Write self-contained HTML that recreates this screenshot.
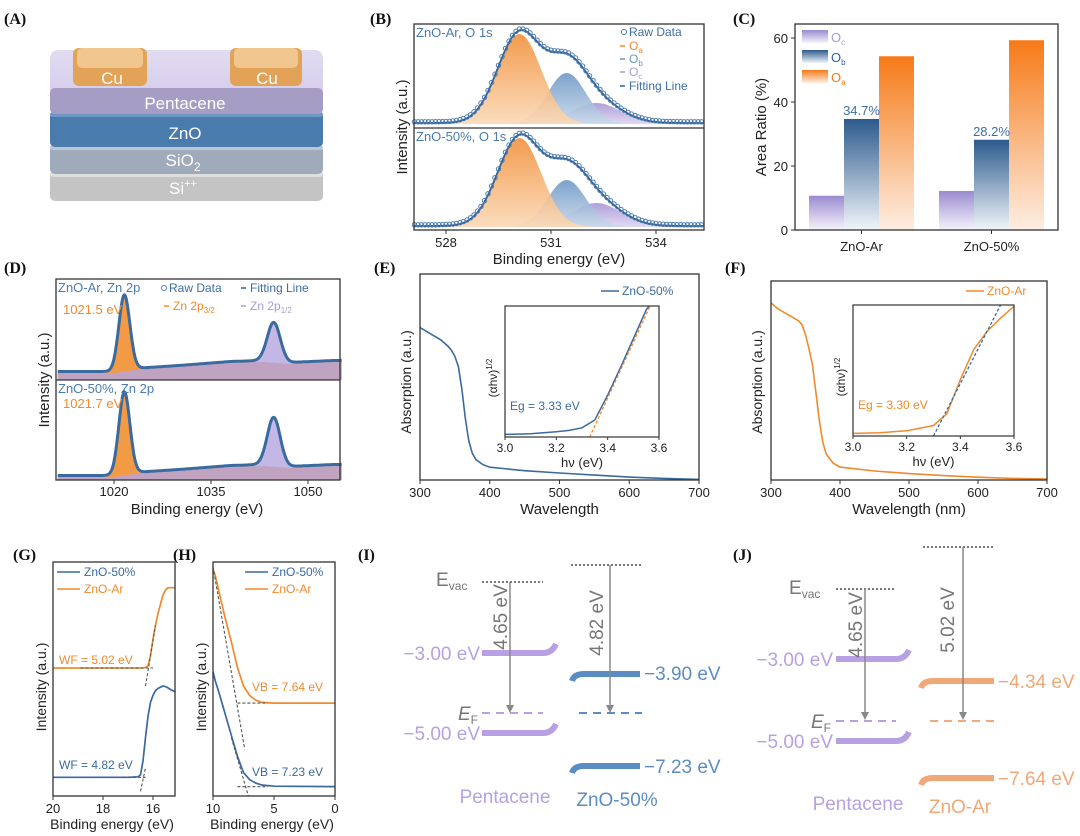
<!DOCTYPE html>
<html><head><meta charset="utf-8"><style>
html,body{margin:0;padding:0;background:#fff;}
svg{display:block;font-family:"Liberation Sans",Arial,sans-serif;}
.pl{font-family:"Liberation Serif",serif;font-weight:bold;font-size:16px;fill:#111;}
</style></head><body>
<svg id="fig" width="1080" height="836" viewBox="0 0 1080 836" xmlns="http://www.w3.org/2000/svg">
<defs>
<linearGradient id="gOa" x1="0" y1="0" x2="0" y2="1"><stop offset="0" stop-color="#f2913c"/><stop offset="1" stop-color="#fbd9b6"/></linearGradient>
<linearGradient id="gOb" x1="0" y1="0" x2="0" y2="1"><stop offset="0" stop-color="#6f98c6"/><stop offset="1" stop-color="#c9d9ea"/></linearGradient>
<linearGradient id="gOc" x1="0" y1="0" x2="0" y2="1"><stop offset="0" stop-color="#a796d6"/><stop offset="1" stop-color="#ddd6f0"/></linearGradient>
<linearGradient id="cbOc" x1="0" y1="0" x2="0" y2="1"><stop offset="0" stop-color="#9a8bd0"/><stop offset="1" stop-color="#f6f4fb"/></linearGradient>
<linearGradient id="cbOb" x1="0" y1="0" x2="0" y2="1"><stop offset="0" stop-color="#2c5a8c"/><stop offset="1" stop-color="#f1f5fa"/></linearGradient>
<linearGradient id="cbOa" x1="0" y1="0" x2="0" y2="1"><stop offset="0" stop-color="#f67a18"/><stop offset="1" stop-color="#fdeee3"/></linearGradient>
<linearGradient id="gPent" x1="0" y1="0" x2="0" y2="1"><stop offset="0" stop-color="#e2dcf2"/><stop offset="1" stop-color="#cfc6e8"/></linearGradient>
</defs>

<!-- Panel A -->
<g>
<text class="pl" x="4" y="24">(A)</text>
<rect x="50" y="171" width="273" height="30" rx="5" fill="#c4c4c4"/>
<rect x="50" y="171" width="273" height="6" rx="3" fill="#dedede"/>
<rect x="50" y="145" width="273" height="29" rx="5" fill="#9faabb"/>
<rect x="50" y="145" width="273" height="5" rx="3" fill="#bcc5d2"/>
<rect x="50" y="112" width="273" height="35" rx="5" fill="#4a7bad"/>
<rect x="50" y="112" width="273" height="5" rx="3" fill="#6e98c4"/>
<rect x="50" y="50" width="273" height="64" rx="8" fill="url(#gPent)"/>
<rect x="50" y="88" width="273" height="26" rx="5" fill="#a69dc4"/>
<rect x="73" y="48" width="74" height="38" rx="6" fill="#e2a257"/>
<rect x="77" y="48" width="66" height="20" rx="5" fill="#f1c68f"/>
<rect x="230" y="48" width="72" height="38" rx="6" fill="#e2a257"/>
<rect x="234" y="48" width="64" height="20" rx="5" fill="#f1c68f"/>
<g fill="#fff" font-size="17" text-anchor="middle">
<text x="112" y="84">Cu</text><text x="267" y="84">Cu</text>
<text x="185" y="109">Pentacene</text>
<text x="185" y="139">ZnO</text>
<text x="183" y="166">SiO<tspan font-size="12" dy="5">2</tspan></text>
<text x="183" y="194">Si<tspan font-size="11" dy="-7">++</tspan></text>
</g>
</g>

<!-- Panel I -->
<g font-size="19">
<text class="pl" x="358" y="560">(I)</text>
<text x="436" y="586" fill="#777">E<tspan font-size="12" dy="4">vac</tspan></text>
<line x1="482" y1="582" x2="543" y2="582" stroke="#777" stroke-width="2" stroke-dasharray="2,2"/>
<line x1="571" y1="565" x2="642" y2="565" stroke="#777" stroke-width="2" stroke-dasharray="2,2"/>
<path d="M482,653 L543,653 Q552,653 556,644" fill="none" stroke="#b7a1e2" stroke-width="6"/>
<path d="M482,733 L543,733 Q552,733 556,724" fill="none" stroke="#b7a1e2" stroke-width="6"/>
<path d="M572,681 Q574,674 584,674 L640,674" fill="none" stroke="#5b8dc4" stroke-width="6"/>
<path d="M572,773 Q574,766 584,766 L640,766" fill="none" stroke="#5b8dc4" stroke-width="6"/>
<line x1="482" y1="713" x2="543" y2="713" stroke="#b7a1e2" stroke-width="2" stroke-dasharray="8,6"/>
<line x1="579" y1="713" x2="642" y2="713" stroke="#5b8dc4" stroke-width="2" stroke-dasharray="8,6"/>
<line x1="510" y1="582" x2="510" y2="707" stroke="#888" stroke-width="1.5"/><path d="M506,705 L510,713 L514,705Z" fill="#888"/>
<line x1="610" y1="565" x2="610" y2="707" stroke="#888" stroke-width="1.5"/><path d="M606,705 L610,713 L614,705Z" fill="#888"/>
<text transform="translate(507,617) rotate(-90)" text-anchor="middle" fill="#777">4.65 eV</text>
<text transform="translate(603,623) rotate(-90)" text-anchor="middle" fill="#777">4.82 eV</text>
<text x="480" y="660" text-anchor="end" fill="#b7a1e2">−3.00 eV</text>
<text x="480" y="740" text-anchor="end" fill="#b7a1e2">−5.00 eV</text>
<text x="478" y="720" text-anchor="end" fill="#777" font-style="italic">E<tspan font-size="12" dy="4" font-style="normal">F</tspan></text>
<text x="644" y="680" fill="#5b8dc4">−3.90 eV</text>
<text x="644" y="773" fill="#5b8dc4">−7.23 eV</text>
<text x="505" y="803" text-anchor="middle" fill="#b7a1e2">Pentacene</text>
<text x="617" y="806" text-anchor="middle" fill="#5b8dc4">ZnO-50%</text>
</g>

<!-- Panel J -->
<g font-size="19">
<text class="pl" x="733" y="560">(J)</text>
<text x="789" y="594" fill="#777">E<tspan font-size="12" dy="4">vac</tspan></text>
<line x1="836" y1="589" x2="896" y2="589" stroke="#777" stroke-width="2" stroke-dasharray="2,2"/>
<line x1="923" y1="547" x2="994" y2="547" stroke="#777" stroke-width="2" stroke-dasharray="2,2"/>
<path d="M836,659 L896,659 Q905,659 909,650" fill="none" stroke="#b7a1e2" stroke-width="6"/>
<path d="M836,741 L896,741 Q905,741 909,732" fill="none" stroke="#b7a1e2" stroke-width="6"/>
<path d="M921,688 Q923,681 933,681 L994,681" fill="none" stroke="#f0a878" stroke-width="6"/>
<path d="M921,785 Q923,778 933,778 L994,778" fill="none" stroke="#f0a878" stroke-width="6"/>
<line x1="836" y1="721" x2="896" y2="721" stroke="#b7a1e2" stroke-width="2" stroke-dasharray="8,6"/>
<line x1="930" y1="721" x2="994" y2="721" stroke="#f0a878" stroke-width="2" stroke-dasharray="8,6"/>
<line x1="865" y1="589" x2="865" y2="714" stroke="#888" stroke-width="1.5"/><path d="M861,712 L865,720 L869,712Z" fill="#888"/>
<line x1="963" y1="547" x2="963" y2="714" stroke="#888" stroke-width="1.5"/><path d="M959,712 L963,720 L967,712Z" fill="#888"/>
<text transform="translate(862,625) rotate(-90)" text-anchor="middle" fill="#777">4.65 eV</text>
<text transform="translate(954,620) rotate(-90)" text-anchor="middle" fill="#777">5.02 eV</text>
<text x="833" y="666" text-anchor="end" fill="#b7a1e2">−3.00 eV</text>
<text x="833" y="748" text-anchor="end" fill="#b7a1e2">−5.00 eV</text>
<text x="831" y="728" text-anchor="end" fill="#777" font-style="italic">E<tspan font-size="12" dy="4" font-style="normal">F</tspan></text>
<text x="998" y="688" fill="#f0a878">−4.34 eV</text>
<text x="998" y="785" fill="#f0a878">−7.64 eV</text>
<text x="858" y="810" text-anchor="middle" fill="#b7a1e2">Pentacene</text>
<text x="960" y="813" text-anchor="middle" fill="#f0a878">ZnO-Ar</text>
</g>
</svg>
<script>
// ===== data =====
// Panel B (O 1s): peak centers (eV), amplitudes (a.u.), widths (eV) for Oa, Ob, Oc
const bCenters = [530.1, 531.45, 532.3];
const bAmpTop = [90, 51, 21];
const bAmpBot = [89, 47, 24];
const bSigma = [0.62, 0.55, 0.7];
const bTicks = [528, 531, 534];
// Panel C
const cCats = ['ZnO-Ar', 'ZnO-50%'];
const cOc = [10.7, 12.2];
const cOb = [34.7, 28.2];
const cOa = [54.3, 59.3];
const cTicks = [0, 20, 40, 60];
// Panel D (Zn 2p)
const dCenters = [1021.6, 1044.7];
const dAmpTop = [75, 39];
const dAmpBot = [82, 48];
const dSigma = [0.85, 1.0];
const dBgE = [1011, 1020, 1023, 1030, 1038, 1043, 1047, 1054];
const dBgTop = [0, 0, 3, 6, 10, 11, 9, 11];
const dBgBot = [0, 0, 3, 6, 10, 11, 9, 11];
const dTicks = [1020, 1035, 1050];
// Panel E / F absorption
const wl = [300, 310, 320, 330, 340, 345, 350, 355, 360, 365, 370, 375, 380, 390, 400, 450, 500, 550, 600, 650, 700];
const absE = [0.74, 0.72, 0.70, 0.68, 0.65, 0.63, 0.60, 0.55, 0.44, 0.30, 0.19, 0.13, 0.10, 0.075, 0.062, 0.045, 0.034, 0.024, 0.014, 0.008, 0.003];
const absF = [0.89, 0.86, 0.84, 0.82, 0.80, 0.78, 0.73, 0.66, 0.58, 0.44, 0.30, 0.19, 0.13, 0.085, 0.065, 0.045, 0.032, 0.022, 0.014, 0.008, 0.005];
const wlTicks = [300, 400, 500, 600, 700];
const hv = [3.0, 3.1, 3.2, 3.25, 3.3, 3.35, 3.4, 3.45, 3.5, 3.55, 3.6];
const taucE = [0.02, 0.025, 0.04, 0.05, 0.07, 0.13, 0.32, 0.53, 0.75, 0.97, 1.1];
const taucF = [0.02, 0.025, 0.04, 0.06, 0.08, 0.17, 0.43, 0.66, 0.80, 0.90, 0.99];
const hvTicks = [3.0, 3.2, 3.4, 3.6];
const egE = 3.33, egF = 3.30;
// Panel G (work function)
const gBE = [20, 17, 16.6, 16.5, 16.4, 16.3, 16.2, 16.1, 16.0, 15.9, 15.8, 15.7, 15.6, 15.5, 15.4, 15.3, 15.1];
const gAr = [0.547, 0.547, 0.547, 0.547, 0.548, 0.549, 0.556, 0.60, 0.67, 0.73, 0.78, 0.82, 0.86, 0.88, 0.89, 0.89, 0.89];
const g50 = [0.08, 0.08, 0.082, 0.09, 0.15, 0.25, 0.34, 0.40, 0.43, 0.45, 0.46, 0.465, 0.47, 0.468, 0.462, 0.455, 0.445];
const gTicks = [20, 18, 16];
// Panel H (valence band)
const hBE = [10, 9.8, 9.5, 9, 8.5, 8, 7.5, 7, 6.5, 6, 5, 0];
const hAr = [0.97, 0.94, 0.87, 0.76, 0.66, 0.55, 0.47, 0.43, 0.41, 0.40, 0.397, 0.397];
const h50 = [0.53, 0.49, 0.44, 0.35, 0.26, 0.17, 0.10, 0.07, 0.055, 0.047, 0.042, 0.04];
const hTicks = [10, 5, 0];

// ===== helpers =====
const svg = document.getElementById('fig');
const NS = 'http://www.w3.org/2000/svg';
function mk(tag, attrs, parent) { const e = document.createElementNS(NS, tag); for (const k in attrs) e.setAttribute(k, attrs[k]); (parent || svg).appendChild(e); return e; }
function txt(s, x, y, attrs, parent) { const t = mk('text', Object.assign({ x: x, y: y }, attrs || {}), parent); t.textContent = s; return t; }
function lin(d0, d1, r0, r1) { return v => r0 + (v - d0) * (r1 - r0) / (d1 - d0); }
function pth(xs, ys, sx, sy) { return xs.map((x, i) => (i ? 'L' : 'M') + sx(x).toFixed(1) + ',' + sy(ys[i]).toFixed(1)).join(''); }
function gauss(x, c, a, s) { return a * Math.exp(-0.5 * ((x - c) / s) ** 2); }
function interp(xs, ys, x) { for (let i = 0; i < xs.length - 1; i++) { const a = xs[i], b = xs[i + 1]; if ((x - a) * (x - b) <= 0) return ys[i] + (ys[i + 1] - ys[i]) * (x - a) / (b - a); } return ys[ys.length - 1]; }
const AX = '#333', TC = '#222';

// ===== Panel B =====
(function () {
  const g = mk('g', {});
  
  
  txt('(B)', 370, 24, { class: 'pl' }, g);
  const sx = lin(528, 531, 446, 551);
  const x0 = 527.1, x1 = 535.35;
  const grid = []; for (let e = x0; e <= x1 + 1e-9; e += 0.05) grid.push(e);
  const panels = [{ amp: bAmpTop, base: 124, label: 'ZnO-Ar, O 1s', ly: 37 }, { amp: bAmpBot, base: 227, label: 'ZnO-50%, O 1s', ly: 141 }];
  const fills = ['url(#gOa)', 'url(#gOb)', 'url(#gOc)'];
  panels.forEach((p, pi) => {
    const sy = v => p.base - v;
    [2, 1, 0].forEach(k => {
      const ys = grid.map(e => gauss(e, bCenters[k], p.amp[k], bSigma[k]));
      const f = mk('path', { d: pth(grid, ys, sx, sy) + 'L' + sx(x1) + ',' + p.base + 'L' + sx(x0) + ',' + p.base + 'Z', fill: fills[k], 'fill-opacity': 0.9 }, g);
      
      
    });
    const sum = grid.map(e => bCenters.reduce((s, c, k) => s + gauss(e, c, p.amp[k], bSigma[k]), 0) + 1);
    const fl = mk('path', { d: pth(grid, sum, sx, sy), fill: 'none', stroke: '#2f5f93', 'stroke-width': 1.8 }, g);
    
    
    for (let i = 0; i < grid.length; i += 2) {
      const c = mk('circle', { cx: sx(grid[i]).toFixed(1), cy: sy(sum[i] + 1.2).toFixed(1), r: 2.2, fill: 'none', stroke: '#4a7bb0', 'stroke-width': 1 }, g);
      
      
    }
    txt(p.label, 416, p.ly, { 'font-size': 13, fill: '#4a7bb0' }, g);
  });
  mk('rect', { x: 414, y: 24, width: 290, height: 206, fill: 'none', stroke: AX, 'stroke-width': 1.3 }, g);
  mk('line', { x1: 414, y1: 128, x2: 704, y2: 128, stroke: AX, 'stroke-width': 1.3 }, g);
  bTicks.forEach(t => { mk('line', { x1: sx(t), y1: 230, x2: sx(t), y2: 234, stroke: AX }, g); txt(String(t), sx(t), 247, { 'font-size': 13, 'text-anchor': 'middle', fill: TC }, g); });
  txt('Binding energy (eV)', 559, 264, { 'font-size': 15, 'text-anchor': 'middle', fill: TC }, g);
  txt('Intensity (a.u.)', 0, 0, { 'font-size': 15, 'text-anchor': 'middle', fill: TC, transform: 'translate(407,127) rotate(-90)' }, g);
  const lg = mk('g', { 'font-size': 12 }, g);
  
  
  mk('circle', { cx: 624, cy: 32, r: 2.5, fill: 'none', stroke: '#4a7bb0' }, lg);
  txt('Raw Data', 629, 36, { fill: '#3d6ea6' }, lg);
  const li = [['#f08a2c', 'O', 'a', 50], ['#6f96c2', 'O', 'b', 63], ['#a99bd6', 'O', 'c', 76]];
  li.forEach(L => { mk('line', { x1: 620, y1: L[3] - 4, x2: 625, y2: L[3] - 4, stroke: L[0], 'stroke-width': 1.5 }, lg); const t = txt(L[1], 629, L[3], { fill: L[0] }, lg); const s = mk('tspan', { 'font-size': 8, dy: 3 }, t); s.textContent = L[2]; });
  mk('line', { x1: 620, y1: 86, x2: 625, y2: 86, stroke: '#2f5f93', 'stroke-width': 1.5 }, lg);
  txt('Fitting Line', 629, 90, { fill: '#3d6ea6' }, lg);
})();

// ===== Panel C =====
(function () {
  const g = mk('g', {});
  
  
  txt('(C)', 733, 24, { class: 'pl' }, g);
  const sy = lin(0, 60, 230, 38);
  const cx = lin(0, 1, 861.5, 991.5);
  const bw = 35;
  const series = [[cOc, 'url(#cbOc)', 'oc', -52.5], [cOb, 'url(#cbOb)', 'ob', -17.5], [cOa, 'url(#cbOa)', 'oa', 17.5]];
  cCats.forEach((c, i) => {
    series.forEach(S => {
      const v = S[0][i];
      const r = mk('rect', { x: cx(i) + S[3], y: sy(v), width: bw, height: 230 - sy(v), fill: S[1] }, g);
      
      
    });
    txt(cOb[i].toFixed(1) + '%', cx(i), sy(cOb[i]) - 4, { 'font-size': 13, 'text-anchor': 'middle', fill: '#3d6ea6' }, g);
    mk('line', { x1: cx(i), y1: 230, x2: cx(i), y2: 234, stroke: AX }, g);
    txt(c, cx(i), 251, { 'font-size': 13, 'text-anchor': 'middle', fill: TC }, g);
  });
  mk('rect', { x: 795, y: 24, width: 263, height: 206, fill: 'none', stroke: AX, 'stroke-width': 1.3 }, g);
  cTicks.forEach(t => { mk('line', { x1: 791, y1: sy(t), x2: 795, y2: sy(t), stroke: AX }, g); txt(String(t), 788, sy(t) + 5, { 'font-size': 13, 'text-anchor': 'end', fill: TC }, g); });
  txt('Area Ratio (%)', 0, 0, { 'font-size': 15, 'text-anchor': 'middle', fill: TC, transform: 'translate(766,127) rotate(-90)' }, g);
  const lg = mk('g', { 'font-size': 13 }, g);
  
  
  [['url(#cbOc)', 'c', '#a99bd6', 30], ['url(#cbOb)', 'b', '#2f5f93', 50], ['url(#cbOa)', 'a', '#f67a18', 70]].forEach(L => {
    mk('rect', { x: 802, y: L[3], width: 26, height: 13, fill: L[0] }, lg);
    const t = txt('O', 831, L[3] + 12, { fill: L[2] }, lg); const s = mk('tspan', { 'font-size': 8, dy: 3 }, t); s.textContent = L[1];
  });
})();

// ===== Panel D =====
(function () {
  const g = mk('g', {});
  
  
  txt('(D)', 4, 273, { class: 'pl' }, g);
  const sx = lin(1020, 1050, 114, 308);
  const x0 = 1011.3, x1 = 1055.2;
  const grid = []; for (let e = x0; e <= x1 + 1e-9; e += 0.1) grid.push(e);
  const panels = [{ amp: dAmpTop, bg: dBgTop, base: 373, bot: 380, label: 'ZnO-Ar, Zn 2p', ly: 292, pk: '1021.5 eV', py: 314 }, { amp: dAmpBot, bg: dBgBot, base: 477, bot: 480, label: 'ZnO-50%, Zn 2p', ly: 393, pk: '1021.7 eV', py: 408 }];
  panels.forEach((p, pi) => {
    const sy = v => p.base - v;
    const bg = grid.map(e => interp(dBgE, p.bg, e));
    const bgp = mk('path', { d: pth(grid, bg, sx, sy) + 'L' + sx(x1) + ',' + p.bot + 'L' + sx(x0) + ',' + p.bot + 'Z', fill: '#c9c0e6' }, g);
    
    
    ['#f39a45', '#b3a5de'].forEach((col, k) => {
      const ys = grid.map((e, i) => bg[i] + gauss(e, dCenters[k], p.amp[k], dSigma[k]));
      const f = mk('path', { d: pth(grid, ys, sx, sy) + 'L' + sx(x1) + ',' + p.bot + 'L' + sx(x0) + ',' + p.bot + 'Z', fill: col, 'fill-opacity': k ? 0.8 : 1 }, g);
      
      
    });
    const sum = grid.map((e, i) => bg[i] + gauss(e, dCenters[0], p.amp[0], dSigma[0]) + gauss(e, dCenters[1], p.amp[1], dSigma[1]) + 1.5);
    const fl = mk('path', { d: pth(grid, sum, sx, sy), fill: 'none', stroke: '#3a6aa0', 'stroke-width': 3 }, g);
    
    
    txt(p.label, 58, p.ly, { 'font-size': 13, fill: '#4a7bb0' }, g);
    txt(p.pk, 63, p.py, { 'font-size': 13, fill: '#f08a2c' }, g);
  });
  mk('rect', { x: 56, y: 279, width: 284, height: 201, fill: 'none', stroke: AX, 'stroke-width': 1.3 }, g);
  mk('line', { x1: 56, y1: 380, x2: 340, y2: 380, stroke: AX, 'stroke-width': 1.3 }, g);
  dTicks.forEach(t => { mk('line', { x1: sx(t), y1: 480, x2: sx(t), y2: 484, stroke: AX }, g); txt(String(t), sx(t), 496, { 'font-size': 13, 'text-anchor': 'middle', fill: TC }, g); });
  txt('Binding energy (eV)', 197, 514, { 'font-size': 15, 'text-anchor': 'middle', fill: TC }, g);
  txt('Intensity (a.u.)', 0, 0, { 'font-size': 15, 'text-anchor': 'middle', fill: TC, transform: 'translate(49,380) rotate(-90)' }, g);
  const lg = mk('g', { 'font-size': 12 }, g);
  
  
  mk('circle', { cx: 164, cy: 288, r: 2.5, fill: 'none', stroke: '#4a7bb0' }, lg);
  txt('Raw Data', 169, 292, { fill: '#3d6ea6' }, lg);
  mk('line', { x1: 241, y1: 288, x2: 246, y2: 288, stroke: '#2f5f93', 'stroke-width': 1.5 }, lg);
  txt('Fitting Line', 250, 292, { fill: '#3d6ea6' }, lg);
  mk('line', { x1: 164, y1: 306, x2: 169, y2: 306, stroke: '#f08a2c', 'stroke-width': 1.5 }, lg);
  let t = txt('Zn 2p', 173, 310, { fill: '#f08a2c' }, lg); let s = mk('tspan', { 'font-size': 8, dy: 3 }, t); s.textContent = '3/2';
  mk('line', { x1: 241, y1: 306, x2: 246, y2: 306, stroke: '#a99bd6', 'stroke-width': 1.5 }, lg);
  t = txt('Zn 2p', 250, 310, { fill: '#a99bd6' }, lg); s = mk('tspan', { 'font-size': 8, dy: 3 }, t); s.textContent = '1/2';
})();

// ===== Panels E / F =====
function absPanel(cfg) {
  const g = mk('g', {});
  
  
  txt(cfg.tag, cfg.bx - 46, 273, { class: 'pl' }, g);
  const sx = lin(300, 700, cfg.bx, cfg.bx + cfg.bw);
  const sy = lin(0, 1, cfg.by + cfg.bh, cfg.by);
  const c = mk('path', { d: pth(wl, cfg.abs, sx, sy), fill: 'none', stroke: cfg.col, 'stroke-width': 1.6 }, g);
  
  
  mk('rect', { x: cfg.bx, y: cfg.by, width: cfg.bw, height: cfg.bh, fill: 'none', stroke: AX, 'stroke-width': 1.3 }, g);
  wlTicks.forEach(t => { mk('line', { x1: sx(t), y1: cfg.by + cfg.bh, x2: sx(t), y2: cfg.by + cfg.bh + 4, stroke: AX }, g); txt(String(t), sx(t), cfg.by + cfg.bh + 17, { 'font-size': 13, 'text-anchor': 'middle', fill: TC }, g); });
  txt(cfg.xlab, cfg.bx + cfg.bw / 2, 514, { 'font-size': 15, 'text-anchor': 'middle', fill: TC }, g);
  txt('Absorption (a.u.)', 0, 0, { 'font-size': 14, 'text-anchor': 'middle', fill: TC, transform: 'translate(' + (cfg.bx - 9) + ',382) rotate(-90)' }, g);
  mk('line', { x1: cfg.lx, y1: 291, x2: cfg.lx + 18, y2: 291, stroke: cfg.col, 'stroke-width': 1.6 }, g);
  txt(cfg.leg, cfg.lx + 21, 295, { 'font-size': 12, fill: cfg.col }, g);
  // inset
  const ix = lin(3.0, 3.6, cfg.ix, cfg.ix + cfg.iw);
  const iy = lin(0, 1, cfg.iy + cfg.ih, cfg.iy);
  const ig = mk('g', {}, g);
  
  
  mk('rect', { x: cfg.ix, y: cfg.iy, width: cfg.iw, height: cfg.ih, fill: '#fff' }, ig);
  mk('clipPath', { id: 'clip' + cfg.short }, ig);
  const cp = document.getElementById('clip' + cfg.short);
  mk('rect', { x: cfg.ix, y: cfg.iy, width: cfg.iw, height: cfg.ih }, cp);
  const ic = mk('path', { d: pth(hv, cfg.tauc, ix, iy), fill: 'none', stroke: cfg.col, 'stroke-width': 1.5, 'clip-path': 'url(#clip' + cfg.short + ')' }, ig);
  
  
  const tl = mk('line', { x1: ix(cfg.eg), y1: iy(0), x2: ix(cfg.tEnd), y2: iy(cfg.tTop), stroke: cfg.tcol, 'stroke-width': 1.3, 'stroke-dasharray': '3,2', 'clip-path': 'url(#clip' + cfg.short + ')' }, ig);
  
  
  mk('rect', { x: cfg.ix, y: cfg.iy, width: cfg.iw, height: cfg.ih, fill: 'none', stroke: AX, 'stroke-width': 1.2 }, ig);
  hvTicks.forEach(t => { mk('line', { x1: ix(t), y1: cfg.iy + cfg.ih, x2: ix(t), y2: cfg.iy + cfg.ih + 3, stroke: AX }, ig); txt(t.toFixed(1), ix(t), cfg.iy + cfg.ih + 15, { 'font-size': 12, 'text-anchor': 'middle', fill: TC }, ig); });
  txt('hν (eV)', cfg.ix + cfg.iw / 2, cfg.iy + cfg.ih + 30, { 'font-size': 13, 'text-anchor': 'middle', fill: TC }, ig);
  const yl = txt('(αhν)', 0, 0, { 'font-size': 12, 'text-anchor': 'middle', fill: TC, transform: 'translate(' + (cfg.ix - 8) + ',' + (cfg.iy + 72) + ') rotate(-90)' }, ig);
  const sp = mk('tspan', { 'font-size': 8, dy: -5 }, yl); sp.textContent = '1/2';
  txt('Eg = ' + cfg.eg.toFixed(2) + ' eV', cfg.ix + 5, cfg.iy + 104, { 'font-size': 12, fill: cfg.col }, ig);
}
absPanel({ name: 'panel-e-absorption-zno50', short: 'e', tag: '(E)', bx: 420, by: 274, bw: 279, bh: 206, col: '#3a6aa0', abs: absE, xlab: 'Wavelength', lx: 601, leg: 'ZnO-50%', ix: 505, iy: 306, iw: 154, ih: 131, tauc: taucE, eg: egE, tEnd: 3.57, tTop: 1.02, tcol: '#f08a2c' });
absPanel({ name: 'panel-f-absorption-znoar', short: 'f', tag: '(F)', bx: 771, by: 281, bw: 276, bh: 199, col: '#f08a2c', abs: absF, xlab: 'Wavelength (nm)', lx: 966, leg: 'ZnO-Ar', ix: 853, iy: 305, iw: 161, ih: 131, tauc: taucF, eg: egF, tEnd: 3.55, tTop: 1.0, tcol: '#3a6aa0' });

// ===== Panels G / H =====
function upsPanel(cfg) {
  const g = mk('g', {});
  
  
  txt(cfg.tag, cfg.bx - 40, 560, { class: 'pl' }, g);
  const sx = lin(cfg.d0, cfg.d1, cfg.bx, cfg.bx + cfg.bw);
  const sy = lin(0, 1, 796, 562);
  const o = mk('path', { d: pth(cfg.xs, cfg.ar, sx, sy), fill: 'none', stroke: '#f08a2c', 'stroke-width': 1.7 }, g);
  
  
  const b = mk('path', { d: pth(cfg.xs, cfg.z50, sx, sy), fill: 'none', stroke: '#3a6aa0', 'stroke-width': 1.7 }, g);
  
  
  cfg.dash.forEach(d => mk('line', { x1: sx(d[0]), y1: sy(d[1]), x2: sx(d[2]), y2: sy(d[3]), stroke: '#555', 'stroke-width': 1.1, 'stroke-dasharray': '3,2' }, g));
  mk('rect', { x: cfg.bx, y: 562, width: cfg.bw, height: 234, fill: 'none', stroke: AX, 'stroke-width': 1.3 }, g);
  cfg.ticks.forEach(t => { mk('line', { x1: sx(t), y1: 796, x2: sx(t), y2: 800, stroke: AX }, g); txt(String(t), sx(t), 813, { 'font-size': 13, 'text-anchor': 'middle', fill: TC }, g); });
  txt('Binding energy (eV)', cfg.bx + cfg.bw / 2 - 2, 829, { 'font-size': 14, 'text-anchor': 'middle', fill: TC }, g);
  txt('Intensity (a.u.)', 0, 0, { 'font-size': 14, 'text-anchor': 'middle', fill: TC, transform: 'translate(' + (cfg.bx - 7) + ',687) rotate(-90)' }, g);
  mk('line', { x1: cfg.lx, y1: 572, x2: cfg.lx + 23, y2: 572, stroke: '#3a6aa0', 'stroke-width': 1.6 }, g);
  txt('ZnO-50%', cfg.lx + 27, 576, { 'font-size': 12, fill: '#3a6aa0' }, g);
  mk('line', { x1: cfg.lx, y1: 589, x2: cfg.lx + 23, y2: 589, stroke: '#f08a2c', 'stroke-width': 1.6 }, g);
  txt('ZnO-Ar', cfg.lx + 27, 593, { 'font-size': 12, fill: '#f08a2c' }, g);
  txt(cfg.l1[0], cfg.l1[1], cfg.l1[2], { 'font-size': 12, fill: '#f08a2c' }, g);
  txt(cfg.l2[0], cfg.l2[1], cfg.l2[2], { 'font-size': 12, fill: '#3a6aa0' }, g);
}
upsPanel({ name: 'panel-g-ups-cutoff', short: 'g', tag: '(G)', bx: 53, bw: 122, d0: 20, d1: 15.12, xs: gBE, ar: gAr, z50: g50, ticks: gTicks, lx: 57,
  dash: [[18.9, 0.547, 16.0, 0.547], [16.3, 0.47, 15.9, 0.73], [17.2, 0.08, 16.3, 0.08], [16.5, 0.02, 16.3, 0.12]],
  l1: ['WF = 5.02 eV', 59, 664], l2: ['WF = 4.82 eV', 59, 769] });
upsPanel({ name: 'panel-h-ups-valence', short: 'h', tag: '(H)', bx: 213, bw: 122, d0: 10, d1: 0, xs: hBE, ar: hAr, z50: h50, ticks: hTicks, lx: 245,
  dash: [[8.0, 0.397, 5.5, 0.397], [10, 0.98, 7.4, 0.2], [8.0, 0.04, 5.5, 0.04], [8.5, 0.25, 7.1, 0.0]],
  l1: ['VB = 7.64 eV', 252, 691], l2: ['VB = 7.23 eV', 252, 776] });
</script>
</body></html>
